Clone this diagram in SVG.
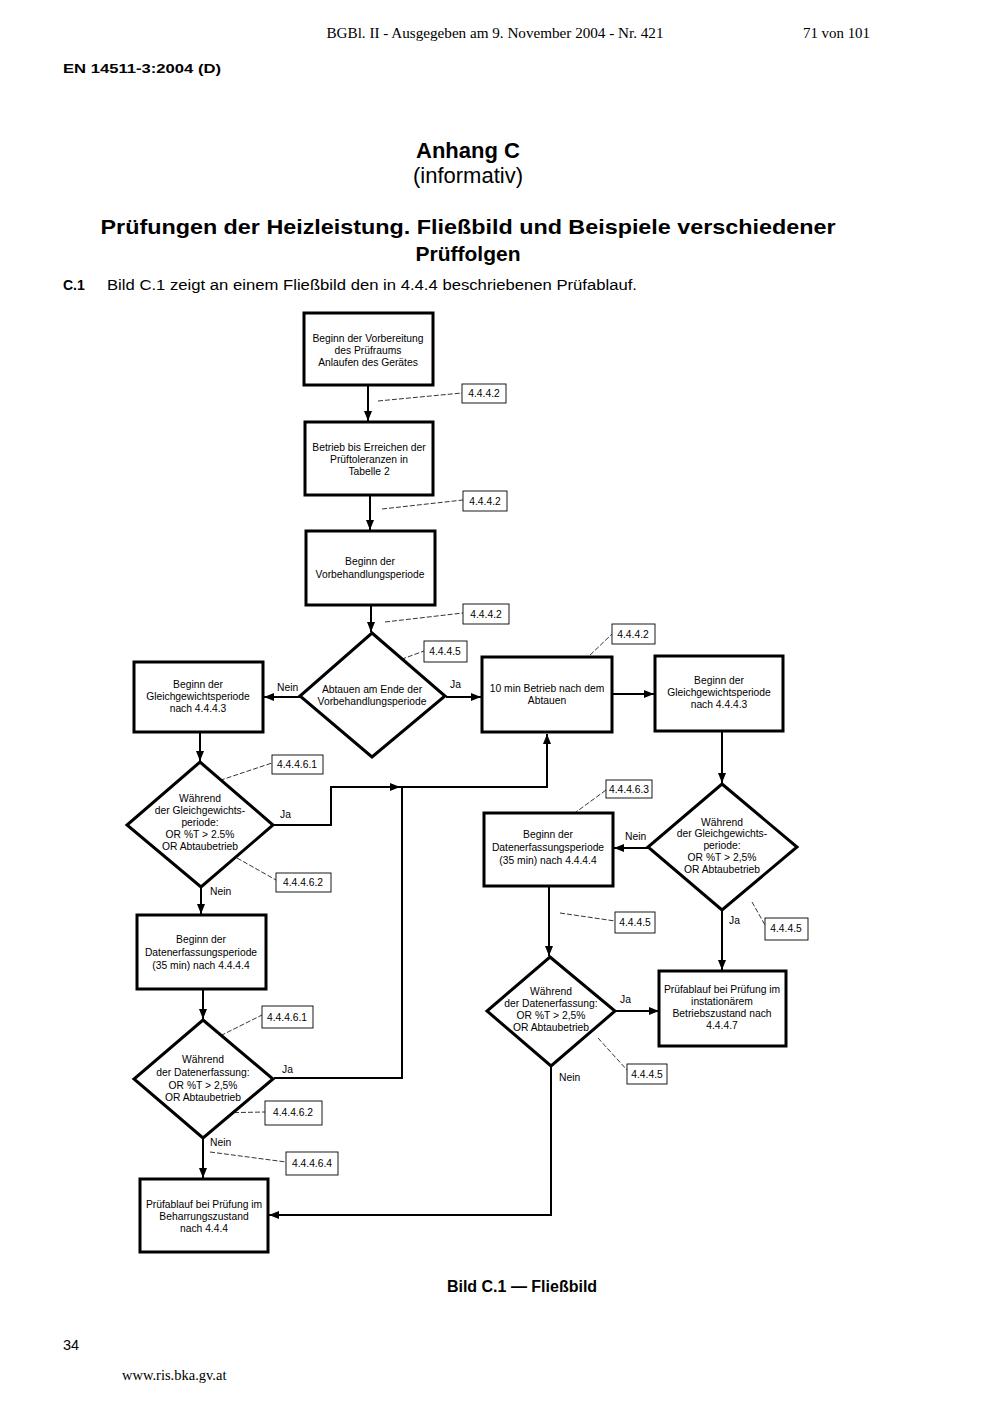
<svg xmlns="http://www.w3.org/2000/svg" width="992" height="1403" viewBox="0 0 992 1403">
<defs>
<style>
.serif{font-family:"Liberation Serif","Times New Roman",serif;fill:#000}
.sans{font-family:"Liberation Sans",Arial,sans-serif;fill:#000}
.node{fill:#fff;stroke:#000;stroke-width:3}
.nt{font-family:"Liberation Sans",Arial,sans-serif;font-size:10.3px;text-anchor:middle;fill:#000}
.conn{fill:none;stroke:#000;stroke-width:2}
.lead{fill:none;stroke:#000;stroke-width:0.8;stroke-dasharray:5 2}
.ref{fill:#fff;stroke:#000;stroke-width:0.9}
.rt{font-family:"Liberation Sans",Arial,sans-serif;font-size:10.3px;text-anchor:middle;fill:#000}
.lbl{font-family:"Liberation Sans",Arial,sans-serif;font-size:10.3px;fill:#000}
</style>
<marker id="ah" viewBox="0 0 10 8" refX="10" refY="4" markerWidth="10" markerHeight="8" markerUnits="userSpaceOnUse" orient="auto">
<path d="M0,0 L10,4 L0,8 Z" fill="#000"/>
</marker>
</defs>
<rect width="992" height="1403" fill="#fff"/>

<!-- page header -->
<text class="serif" x="495" y="38" font-size="14.5" text-anchor="middle" textLength="337" lengthAdjust="spacingAndGlyphs">BGBl. II - Ausgegeben am 9. November 2004 - Nr. 421</text>
<text class="serif" x="803" y="38" font-size="14.5" textLength="67" lengthAdjust="spacingAndGlyphs">71 von 101</text>
<text class="sans" x="63" y="73" font-size="13.5" font-weight="bold" textLength="158" lengthAdjust="spacingAndGlyphs">EN 14511-3:2004 (D)</text>
<text class="sans" x="468" y="158" font-size="22" font-weight="bold" text-anchor="middle">Anhang C</text>
<text class="sans" x="468" y="183" font-size="22" text-anchor="middle">(informativ)</text>
<text class="sans" x="468" y="234" font-size="21" font-weight="bold" text-anchor="middle" textLength="735" lengthAdjust="spacingAndGlyphs">Prüfungen der Heizleistung. Fließbild und Beispiele verschiedener</text>
<text class="sans" x="468" y="261" font-size="21" font-weight="bold" text-anchor="middle">Prüffolgen</text>
<text class="sans" x="63" y="290" font-size="14" font-weight="bold">C.1</text>
<text class="sans" x="107" y="290" font-size="14" textLength="530" lengthAdjust="spacingAndGlyphs">Bild C.1 zeigt an einem Fließbild den in 4.4.4 beschriebenen Prüfablauf.</text>

<!-- connectors -->
<g id="connectors">
<path class="conn" d="M368,385 V421" marker-end="url(#ah)"/>
<path class="conn" d="M370,495 V530" marker-end="url(#ah)"/>
<path class="conn" d="M371,605 V632" marker-end="url(#ah)"/>
<path class="conn" d="M300,697 H264" marker-end="url(#ah)"/>
<path class="conn" d="M446,697 H481" marker-end="url(#ah)"/>
<path class="conn" d="M612,694 H654" marker-end="url(#ah)"/>
<path class="conn" d="M200,731 V761" marker-end="url(#ah)"/>
<path class="conn" d="M722,731 V783" marker-end="url(#ah)"/>
<path class="conn" d="M273,825 H331 V787 H400" marker-end="url(#ah)"/>
<path class="conn" d="M400,787 H547 V734" marker-end="url(#ah)"/>
<path class="conn" d="M274,1078 H402 V787"/>
<path class="conn" d="M201,887 V914" marker-end="url(#ah)"/>
<path class="conn" d="M648,848 H614" marker-end="url(#ah)"/>
<path class="conn" d="M203,990 V1019" marker-end="url(#ah)"/>
<path class="conn" d="M549,886 V956" marker-end="url(#ah)"/>
<path class="conn" d="M722,910 V970" marker-end="url(#ah)"/>
<path class="conn" d="M615,1011 H659" marker-end="url(#ah)"/>
<path class="conn" d="M203,1138 V1178" marker-end="url(#ah)"/>
<path class="conn" d="M551,1067 V1215 H269" marker-end="url(#ah)"/>
</g>

<!-- connector labels -->
<g id="connector-labels">
<text class="lbl" x="277" y="691">Nein</text>
<text class="lbl" x="450" y="688">Ja</text>
<text class="lbl" x="280" y="818">Ja</text>
<text class="lbl" x="210" y="895">Nein</text>
<text class="lbl" x="625" y="840">Nein</text>
<text class="lbl" x="729" y="924">Ja</text>
<text class="lbl" x="282" y="1073">Ja</text>
<text class="lbl" x="210" y="1146">Nein</text>
<text class="lbl" x="620" y="1003">Ja</text>
<text class="lbl" x="559" y="1081">Nein</text>
</g>

<!-- reference leaders and boxes -->
<g id="references">
<path class="lead" d="M378,401 L462,393"/>
<path class="lead" d="M382,509 L463,500"/>
<path class="lead" d="M385,622 L463,613"/>
<path class="lead" d="M375,669 L424,651"/>
<path class="lead" d="M585,660 L612,634"/>
<path class="lead" d="M200,787 L272,763"/>
<path class="lead" d="M237,858 L276,880"/>
<path class="lead" d="M568,818 L606,790"/>
<path class="lead" d="M560,913 L615,921"/>
<path class="lead" d="M752,902 L765,925"/>
<path class="lead" d="M202,1045 L262,1015"/>
<path class="lead" d="M213,1113 L265,1112"/>
<path class="lead" d="M210,1152 L286,1162"/>
<path class="lead" d="M598,1038 L627,1070"/>

<rect class="ref" x="462" y="384" width="44" height="19"/><text class="rt" x="484" y="397">4.4.4.2</text>
<rect class="ref" x="463" y="491" width="44" height="20"/><text class="rt" x="485" y="505">4.4.4.2</text>
<rect class="ref" x="463" y="604" width="46" height="20"/><text class="rt" x="486" y="618">4.4.4.2</text>
<rect class="ref" x="424" y="641" width="43" height="21"/><text class="rt" x="445" y="655">4.4.4.5</text>
<rect class="ref" x="612" y="624" width="43" height="20"/><text class="rt" x="633" y="638">4.4.4.2</text>
<rect class="ref" x="272" y="755" width="51" height="19"/><text class="rt" x="297" y="768">4.4.4.6.1</text>
<rect class="ref" x="276" y="873" width="55" height="19"/><text class="rt" x="303" y="886">4.4.4.6.2</text>
<rect class="ref" x="606" y="780" width="46" height="18"/><text class="rt" x="629" y="793">4.4.4.6.3</text>
<rect class="ref" x="615" y="912" width="40" height="21"/><text class="rt" x="635" y="926">4.4.4.5</text>
<rect class="ref" x="765" y="918" width="43" height="22"/><text class="rt" x="786" y="932">4.4.4.5</text>
<rect class="ref" x="262" y="1006" width="51" height="22"/><text class="rt" x="287" y="1021">4.4.4.6.1</text>
<rect class="ref" x="265" y="1101" width="57" height="24"/><text class="rt" x="293" y="1116">4.4.4.6.2</text>
<rect class="ref" x="286" y="1152" width="52" height="23"/><text class="rt" x="312" y="1167">4.4.4.6.4</text>
<rect class="ref" x="627" y="1064" width="40" height="20"/><text class="rt" x="647" y="1078">4.4.4.5</text>
</g>

<!-- nodes -->
<g id="n1"><rect class="node" x="304" y="313" width="129" height="72"/>
<text class="nt" x="368" y="342">Beginn der Vorbereitung</text><text class="nt" x="368" y="354">des Prüfraums</text><text class="nt" x="368" y="366">Anlaufen des Gerätes</text></g>

<g id="n2"><rect class="node" x="305" y="422" width="128" height="73"/>
<text class="nt" x="369" y="451">Betrieb bis Erreichen der</text><text class="nt" x="369" y="463">Prüftoleranzen in</text><text class="nt" x="369" y="475">Tabelle 2</text></g>

<g id="n3"><rect class="node" x="306" y="531" width="129" height="74"/>
<text class="nt" x="370" y="565">Beginn der</text><text class="nt" x="370" y="578">Vorbehandlungsperiode</text></g>

<g id="d1"><path class="node" d="M372,633 L445,696 L372,757 L300,696 Z"/>
<text class="nt" x="372" y="693">Abtauen am Ende der</text><text class="nt" x="372" y="705">Vorbehandlungsperiode</text></g>

<g id="n4"><rect class="node" x="134" y="662" width="129" height="70"/>
<text class="nt" x="198" y="688">Beginn der</text><text class="nt" x="198" y="700">Gleichgewichtsperiode</text><text class="nt" x="198" y="712">nach 4.4.4.3</text></g>

<g id="n5"><rect class="node" x="482" y="657" width="130" height="75"/>
<text class="nt" x="547" y="692">10 min Betrieb nach dem</text><text class="nt" x="547" y="704">Abtauen</text></g>

<g id="n6"><rect class="node" x="655" y="656" width="128" height="75"/>
<text class="nt" x="719" y="684">Beginn der</text><text class="nt" x="719" y="696">Gleichgewichtsperiode</text><text class="nt" x="719" y="708">nach 4.4.4.3</text></g>

<g id="d2"><path class="node" d="M200,762 L273,825 L201,887 L127,825 Z"/>
<text class="nt" x="200" y="802">Während</text><text class="nt" x="200" y="814">der Gleichgewichts-</text><text class="nt" x="200" y="826">periode:</text><text class="nt" x="200" y="838">OR %T &gt; 2.5%</text><text class="nt" x="200" y="850">OR Abtaubetrieb</text></g>

<g id="d3"><path class="node" d="M722,784 L797,847 L722,910 L648,847 Z"/>
<text class="nt" x="722" y="826">Während</text><text class="nt" x="722" y="837">der Gleichgewichts-</text><text class="nt" x="722" y="849">periode:</text><text class="nt" x="722" y="861">OR %T &gt; 2,5%</text><text class="nt" x="722" y="873">OR Abtaubetrieb</text></g>

<g id="n7"><rect class="node" x="484" y="813" width="129" height="73"/>
<text class="nt" x="548" y="838">Beginn der</text><text class="nt" x="548" y="851">Datenerfassungsperiode</text><text class="nt" x="548" y="864">(35 min) nach 4.4.4.4</text></g>

<g id="n8"><rect class="node" x="137" y="915" width="129" height="74"/>
<text class="nt" x="201" y="943">Beginn der</text><text class="nt" x="201" y="956">Datenerfassungsperiode</text><text class="nt" x="201" y="969">(35 min) nach 4.4.4.4</text></g>

<g id="d4"><path class="node" d="M550,957 L615,1011 L551,1066 L487,1011 Z"/>
<text class="nt" x="551" y="995">Während</text><text class="nt" x="551" y="1007">der Datenerfassung:</text><text class="nt" x="551" y="1019">OR %T &gt; 2,5%</text><text class="nt" x="551" y="1031">OR Abtaubetrieb</text></g>

<g id="n9"><rect class="node" x="659" y="971" width="127" height="75"/>
<text class="nt" x="722" y="993">Prüfablauf bei Prüfung im</text><text class="nt" x="722" y="1005">instationärem</text><text class="nt" x="722" y="1017">Betriebszustand nach</text><text class="nt" x="722" y="1029">4.4.4.7</text></g>

<g id="d5"><path class="node" d="M203,1020 L273,1079 L203,1138 L134,1079 Z"/>
<text class="nt" x="203" y="1063">Während</text><text class="nt" x="203" y="1076">der Datenerfassung:</text><text class="nt" x="203" y="1089">OR %T &gt; 2,5%</text><text class="nt" x="203" y="1101">OR Abtaubetrieb</text></g>

<g id="n10"><rect class="node" x="140" y="1179" width="128" height="73"/>
<text class="nt" x="204" y="1208">Prüfablauf bei Prüfung im</text><text class="nt" x="204" y="1220">Beharrungszustand</text><text class="nt" x="204" y="1232">nach 4.4.4</text></g>

<!-- caption and footer -->
<text class="sans" x="522" y="1292" font-size="16" font-weight="bold" text-anchor="middle">Bild C.1 — Fließbild</text>
<text class="sans" x="63" y="1350" font-size="14.5">34</text>
<text class="serif" x="122" y="1380" font-size="14.5">www.ris.bka.gv.at</text>
</svg>
